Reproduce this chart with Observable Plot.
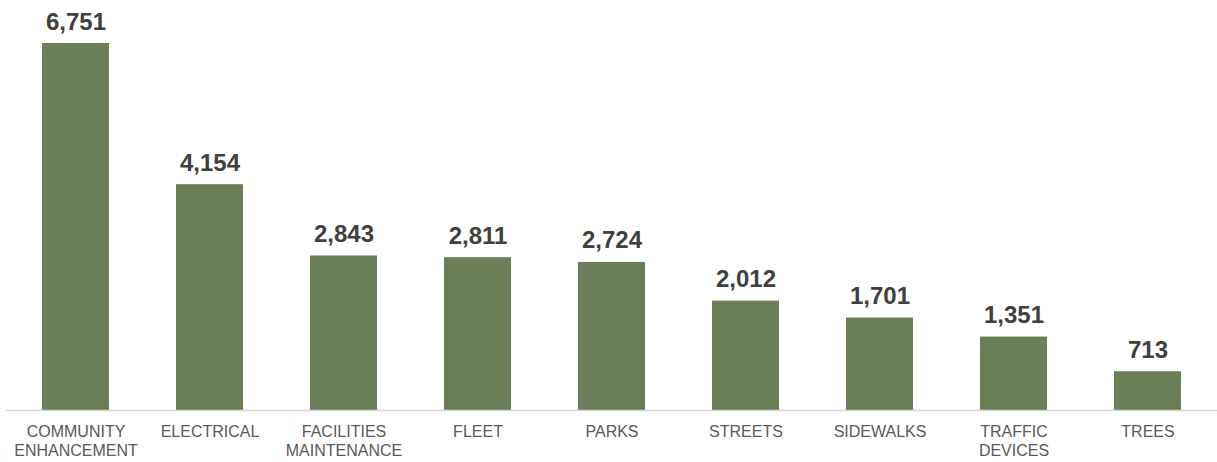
<!DOCTYPE html>
<html>
<head>
<meta charset="utf-8">
<script src="https://cdn.jsdelivr.net/npm/d3@7"></script>
<script src="https://cdn.jsdelivr.net/npm/@observablehq/plot@0.6"></script>
<style>
  html, body { margin: 0; padding: 0; background: #fff; }
  #chart svg { display: block; font-family: "Liberation Sans", Arial, sans-serif; }
</style>
</head>
<body>
<div id="chart"></div>
<script>
const categories = [
  "COMMUNITY\nENHANCEMENT", "ELECTRICAL", "FACILITIES\nMAINTENANCE", "FLEET", "PARKS",
  "STREETS", "SIDEWALKS", "TRAFFIC\nDEVICES", "TREES"
];
const values = [6751, 4154, 2843, 2811, 2724, 2012, 1701, 1351, 713];

const data = categories.map((c, i) => ({category: c, value: values[i]}));
const fmt = d3.format(",");

const chart = Plot.plot({
  width: 1217,
  height: 462,
  marginTop: 43,
  marginBottom: 52,
  marginLeft: 6,
  marginRight: 0,
  style: {fontFamily: '"Liberation Sans", Arial, sans-serif', background: "#fff"},
  x: {domain: categories, paddingInner: 0.5, paddingOuter: 0.25, label: null},
  y: {domain: [0, 6751], axis: null},
  marks: [
    Plot.barY(data, {x: "category", y: "value", fill: "#6a7f57"}),
    Plot.ruleY([0], {stroke: "#d4d4d4", strokeWidth: 1.5}),
    Plot.text(data, {
      x: "category", y: "value", text: d => fmt(d.value),
      lineAnchor: "bottom", dy: -14, fontSize: 24, fontWeight: "bold", fill: "#404040"
    }),
    Plot.axisX({
      tickSize: 0, tickPadding: 13, fontSize: 16, lineHeight: 1.2,
      color: "#595959", label: null
    })
  ]
});
document.getElementById("chart").appendChild(chart);
</script>
</body>
</html>
